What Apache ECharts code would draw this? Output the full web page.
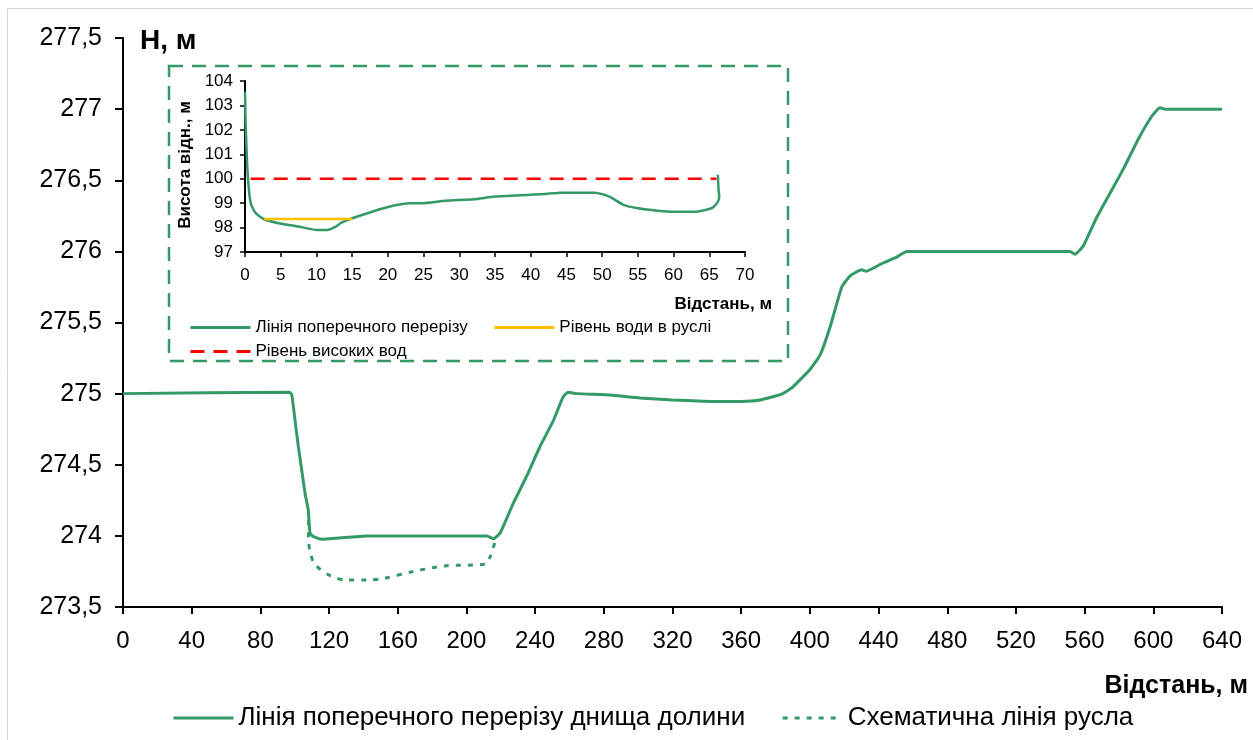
<!DOCTYPE html>
<html>
<head>
<meta charset="utf-8">
<script src="https://cdn.jsdelivr.net/npm/echarts@6/dist/echarts.min.js"></script>
<style>
html,body{margin:0;padding:0;background:#fff;}
#chart{width:1253px;height:740px;}
</style>
</head>
<body>
<div id="chart"></div>
<script>
// Main cross-section (distance, m / elevation H, m)
const mainX = [0, 97, 98.3, 100.2, 102.1, 104.1, 106, 107.9, 108.9, 110.8, 115.7, 142, 211.8, 215.7, 219.6, 227.3, 235.1, 242.9, 250.6, 256.4, 259.3, 264.2, 283.6, 301, 320, 345, 360, 371, 383.6, 389.4, 400.1, 405.9, 411.8, 418.6, 423.6, 430.2, 432.7, 442.8, 450.6, 456.4, 551.5, 554.4, 559.3, 567.1, 582.6, 591.3, 599.1, 603.9, 606.9, 640];
const mainY = [275, 275.01, 274.99, 274.81, 274.63, 274.46, 274.30, 274.18, 274.02, 273.996, 273.976, 274.0, 274.0, 273.98, 274.02, 274.23, 274.42, 274.63, 274.81, 274.98, 275.01, 275.0, 274.99, 274.97, 274.955, 274.945, 274.945, 274.955, 274.997, 275.04, 275.17, 275.27, 275.47, 275.75, 275.83, 275.87, 275.86, 275.92, 275.96, 276.0, 276.0, 275.98, 276.04, 276.24, 276.58, 276.79, 276.95, 277.01, 277.0, 277.0];
// Schematic channel line
const schemX = [108, 108, 108.9, 111.8, 120.6, 130.3, 141.9, 151.6, 169.1, 188.5, 210.8, 213.7, 216.7];
const schemY = [274.11, 273.99, 273.89, 273.80, 273.72, 273.69, 273.69, 273.70, 273.75, 273.79, 273.80, 273.85, 273.96];
// Inset: channel cross-section
const insX = [0, 0.1, 0.4, 0.8, 1.5, 2.7, 4.7, 7.5, 10.1, 11.5, 12.7, 13.5, 15, 17.8, 20.7, 23, 24.7, 28.1, 32.1, 35, 42.4, 44.1, 49, 51, 53, 55, 57.8, 60.1, 63, 65.3, 66.1, 66.4, 66.3, 66.2];
const insY = [103.57, 102.14, 100.09, 99.0, 98.59, 98.34, 98.18, 98.04, 97.9, 97.9, 98.04, 98.2, 98.38, 98.65, 98.89, 99.0, 99.0, 99.1, 99.16, 99.27, 99.38, 99.43, 99.43, 99.27, 98.93, 98.79, 98.69, 98.65, 98.65, 98.79, 99.0, 99.27, 99.54, 100.16];
const waterX = [2.7, 15];
const waterY = [98.35, 98.35];
const floodX = [0.8, 66];
const floodY = [100, 100];
// Tick settings
const mainXTicks = {min: 0, max: 640, interval: 40};
const mainYTicks = {min: 273.5, max: 277.5, interval: 0.5};
const insXTicks = {min: 0, max: 70, interval: 5};
const insYTicks = {min: 97, max: 104, interval: 1};

const names = {
  main: 'Лінія поперечного перерізу днища долини',
  schem: 'Схематична лінія русла',
  ins: 'Лінія поперечного перерізу',
  water: 'Рівень води в руслі',
  flood: 'Рівень високих вод'
};

function pairs(xs, ys){ return xs.map((x,i)=>[x, ys[i]]); }

const GREEN = '#339966';
const FONT = '"Liberation Sans", Arial, sans-serif';
const axisLineStyle = {lineStyle:{color:'#000', width:2}};

const chart = echarts.init(document.getElementById('chart'), null, {renderer:'canvas'});
chart.setOption({
  animation: false,
  backgroundColor: '#fff',
  textStyle: {fontFamily: FONT, color:'#000'},
  grid: [
    {left:123, right:31, top:38, bottom:133, containLabel:false},
    {left:245, right:508, top:81, bottom:488, containLabel:false}
  ],
  xAxis: [
    {gridIndex:0, type:'value', min:mainXTicks.min, max:mainXTicks.max, interval:mainXTicks.interval,
     axisLine:axisLineStyle, axisTick:{show:true, length:7, lineStyle:{color:'#000', width:2}},
     axisLabel:{fontSize:24, color:'#000', margin:22, fontFamily:FONT}, splitLine:{show:false}},
    {gridIndex:1, type:'value', min:insXTicks.min, max:insXTicks.max, interval:insXTicks.interval,
     axisLine:axisLineStyle, axisTick:{show:true, length:5, lineStyle:{color:'#000', width:1.5}},
     axisLabel:{fontSize:17, color:'#000', margin:15, fontFamily:FONT}, splitLine:{show:false}}
  ],
  yAxis: [
    {gridIndex:0, type:'value', min:mainYTicks.min, max:mainYTicks.max, interval:mainYTicks.interval,
     axisLine:{show:true, lineStyle:{color:'#000', width:2}}, axisTick:{show:true, length:8, lineStyle:{color:'#000', width:2}},
     axisLabel:{fontSize:25, color:'#000', margin:21, fontFamily:FONT, formatter:v=>String(v).replace('.', ',')},
     splitLine:{show:false}},
    {gridIndex:1, type:'value', min:insYTicks.min, max:insYTicks.max, interval:insYTicks.interval,
     axisLine:{show:true, lineStyle:{color:'#000', width:2}}, axisTick:{show:true, length:5, lineStyle:{color:'#000', width:1.5}},
     axisLabel:{fontSize:17, color:'#000', margin:12, fontFamily:FONT},
     splitLine:{show:false}}
  ],
  legend: [
    {left:172, top:705, padding:0, itemWidth:60, itemHeight:14, itemGap:36,
     itemStyle:{opacity:0, borderWidth:0}, lineStyle:{width:3},
     textStyle:{fontSize:26, color:'#000', fontFamily:FONT},
     data:[names.main, names.schem]},
    {left:189, top:319, padding:0, itemWidth:60, itemHeight:12, itemGap:25,
     itemStyle:{opacity:0, borderWidth:0}, lineStyle:{width:3},
     textStyle:{fontSize:17, color:'#000', fontFamily:FONT},
     data:[names.ins, names.water]},
    {left:189, top:343, padding:0, itemWidth:60, itemHeight:12,
     itemStyle:{opacity:0, borderWidth:0}, lineStyle:{width:3},
     textStyle:{fontSize:17, color:'#000', fontFamily:FONT},
     data:[names.flood]}
  ],
  graphic: [
    {type:'rect', shape:{x:7.5, y:8.5, width:1250, height:740}, style:{fill:'none', stroke:'#d4d4d4', lineWidth:1}, silent:true, z:-1},
    {type:'rect', shape:{x:169, y:66, width:619, height:295}, style:{fill:'none', stroke:GREEN, lineWidth:2.5, lineDash:[14,9]}, silent:true},
    {type:'text', x:140, y:41, style:{text:'H, м', fontSize:28, fontWeight:'bold', fontFamily:FONT, fill:'#000', textAlign:'left', textVerticalAlign:'middle'}},
    {type:'text', x:1248, y:686, style:{text:'Відстань, м', fontSize:25, fontWeight:'bold', fontFamily:FONT, fill:'#000', textAlign:'right', textVerticalAlign:'middle'}},
    {type:'text', x:772, y:304, style:{text:'Відстань, м', fontSize:17, fontWeight:'bold', fontFamily:FONT, fill:'#000', textAlign:'right', textVerticalAlign:'middle'}},
    {type:'text', x:185, y:165, rotation:Math.PI/2, style:{text:'Висота відн., м', fontSize:17, fontWeight:'bold', fontFamily:FONT, fill:'#000', textAlign:'center', textVerticalAlign:'middle'}}
  ],
  series: [
    {name:names.main, type:'line', xAxisIndex:0, yAxisIndex:0, data:pairs(mainX, mainY), showSymbol:false, symbol:'none', smooth:0.15,
     lineStyle:{color:GREEN, width:3}, itemStyle:{color:GREEN}},
    {name:names.schem, type:'line', xAxisIndex:0, yAxisIndex:0, data:pairs(schemX, schemY), showSymbol:false, symbol:'none', smooth:0.3,
     lineStyle:{color:GREEN, width:3, type:[5,7]}, itemStyle:{color:GREEN}},
    {name:names.ins, type:'line', xAxisIndex:1, yAxisIndex:1, data:pairs(insX, insY), showSymbol:false, symbol:'none', smooth:0.2,
     lineStyle:{color:GREEN, width:2.5}, itemStyle:{color:GREEN}},
    {name:names.water, type:'line', xAxisIndex:1, yAxisIndex:1, data:pairs(waterX, waterY), showSymbol:false, symbol:'none',
     lineStyle:{color:'#FFC000', width:2.5}, itemStyle:{color:'#FFC000'}},
    {name:names.flood, type:'line', xAxisIndex:1, yAxisIndex:1, data:pairs(floodX, floodY), showSymbol:false, symbol:'none',
     lineStyle:{color:'#FF0000', width:2.5, type:[14,9]}, itemStyle:{color:'#FF0000'}}
  ]
});
</script>
</body>
</html>
